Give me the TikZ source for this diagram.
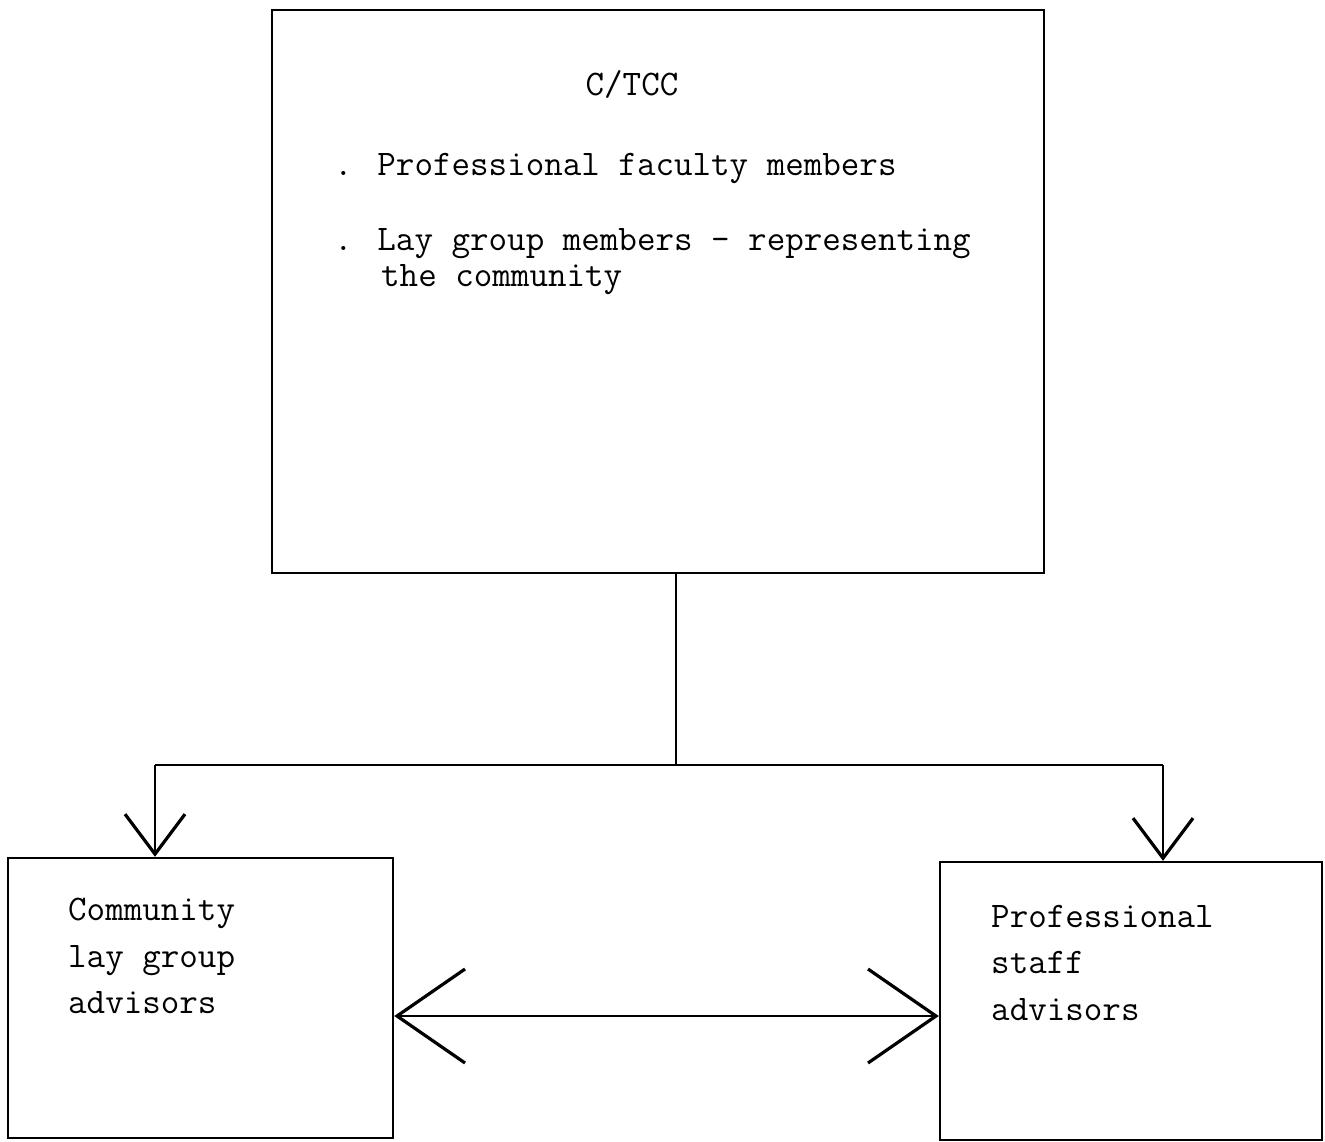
\documentclass[tikz,border=0pt]{standalone}
\usetikzlibrary{arrows.meta}
\begin{document}
\begin{tikzpicture}[x=0.5pt,y=-0.5pt,line width=1.2pt,
  box/.style={draw,rectangle,inner sep=0pt},
  txt/.style={font=\fontsize{18}{23.5}\selectfont\ttfamily,anchor=base west,inner sep=0pt},
  downtip/.style={-{Straight Barb[length=20pt,width=30pt,line width=1.6pt]}},
  sidetips/.style={{Straight Barb[length=34pt,width=47pt,line width=1.6pt]}-{Straight Barb[length=34pt,width=47pt,line width=1.6pt]}}]
\useasboundingbox (0,0) rectangle (1325,1141);
% boxes
\node[box,minimum width=386pt,minimum height=281.5pt] (top) at (658,291.5) {};
\node[box,minimum width=192.5pt,minimum height=140pt] (lb) at (200.5,998) {};
\node[box,minimum width=191pt,minimum height=139pt] (rb) at (1131,1001) {};
% top box text
\node[txt,anchor=base] (title) at (632,95) {C/TCC};
\node[txt] (t1) at (333,175) {. Professional faculty members};
\node[txt] (t2) at (333,250) {. Lay group members - representing};
\node[txt] (t3) at (380,286) {the community};
% left box text
\node[txt] (l1) at (67,920) {Community};
\node[txt] (l2) at (67,967) {lay group};
\node[txt] (l3) at (67,1013) {advisors};
% right box text
\node[txt] (r1) at (990,927) {Professional};
\node[txt] (r2) at (990,973) {staff};
\node[txt] (r3) at (990,1020) {advisors};
% connectors
\coordinate (j) at (676,765);
\coordinate (jl) at (155,765);
\coordinate (jr) at (1163,765);
\coordinate (mid) at (666,1016);
\draw (top.south -| j) -- (j);
\draw (jl) -- (jr);
\draw[downtip] (jl) -- (jl |- lb.north);
\draw[downtip] (jr) -- (jr |- rb.north);
\draw[sidetips] (lb.east |- mid) -- (rb.west |- mid);
\end{tikzpicture}
\end{document}
